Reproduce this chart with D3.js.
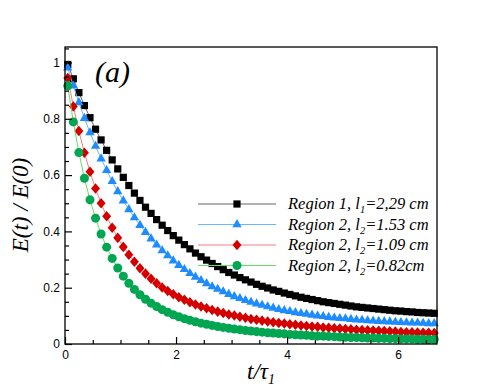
<!DOCTYPE html>
<html>
<head>
<meta charset="utf-8">
<script src="https://cdn.jsdelivr.net/npm/d3@7"></script>
<style>
  html, body { margin: 0; padding: 0; background: #fff; }
  svg { display: block; }
</style>
</head>
<body>
<svg id="chart" width="498" height="388"></svg>
<script>
// ---- data ----
const tValues = [0.05,0.15,0.25,0.35,0.45,0.55,0.65,0.75,0.85,0.95,1.05,1.15,1.25,1.35,1.45,1.55,1.65,1.75,1.85,1.95,2.05,2.15,2.25,2.35,2.45,2.55,2.65,2.75,2.85,2.95,3.05,3.15,3.25,3.35,3.45,3.55,3.65,3.75,3.85,3.95,4.05,4.15,4.25,4.35,4.45,4.55,4.65,4.75,4.85,4.95,5.05,5.15,5.25,5.35,5.45,5.55,5.65,5.75,5.85,5.95,6.05,6.15,6.25,6.35,6.45,6.55,6.65];

const region1_l229 = [0.993,0.942,0.893,0.847,0.804,0.763,0.725,0.688,0.654,0.622,0.592,0.563,0.536,0.510,0.486,0.464,0.442,0.422,0.403,0.385,0.369,0.353,0.338,0.323,0.310,0.298,0.286,0.275,0.264,0.254,0.245,0.236,0.228,0.220,0.212,0.205,0.199,0.192,0.187,0.181,0.176,0.171,0.166,0.162,0.158,0.154,0.150,0.147,0.144,0.141,0.138,0.135,0.132,0.130,0.128,0.126,0.124,0.122,0.120,0.118,0.117,0.115,0.114,0.112,0.111,0.110,0.109];

const region2_l153 = [0.981,0.917,0.858,0.802,0.751,0.703,0.658,0.617,0.578,0.542,0.509,0.478,0.449,0.422,0.397,0.374,0.352,0.332,0.314,0.296,0.280,0.265,0.251,0.238,0.226,0.215,0.204,0.195,0.186,0.177,0.169,0.162,0.155,0.149,0.143,0.138,0.133,0.128,0.123,0.119,0.116,0.112,0.109,0.106,0.103,0.100,0.098,0.095,0.093,0.091,0.090,0.088,0.086,0.085,0.083,0.082,0.081,0.080,0.079,0.078,0.077,0.076,0.075,0.075,0.074,0.073,0.073];

const region2_l109 = [0.945,0.844,0.757,0.679,0.612,0.552,0.500,0.454,0.413,0.377,0.345,0.317,0.292,0.269,0.250,0.232,0.216,0.201,0.188,0.177,0.166,0.157,0.148,0.140,0.133,0.127,0.121,0.115,0.110,0.105,0.101,0.097,0.093,0.089,0.086,0.083,0.080,0.077,0.075,0.073,0.070,0.068,0.066,0.064,0.062,0.061,0.059,0.058,0.056,0.055,0.053,0.052,0.051,0.050,0.049,0.048,0.047,0.046,0.045,0.044,0.043,0.042,0.042,0.041,0.040,0.040,0.039];

const region2_l082 = [0.917,0.789,0.680,0.589,0.512,0.447,0.391,0.344,0.304,0.270,0.241,0.216,0.194,0.175,0.159,0.145,0.133,0.122,0.113,0.104,0.097,0.090,0.084,0.079,0.074,0.070,0.066,0.062,0.059,0.056,0.053,0.051,0.048,0.046,0.044,0.042,0.040,0.039,0.037,0.036,0.034,0.033,0.032,0.031,0.029,0.028,0.028,0.027,0.026,0.025,0.024,0.023,0.023,0.022,0.021,0.021,0.020,0.020,0.019,0.019,0.018,0.018,0.018,0.017,0.017,0.016,0.016];

const seriesNames = ["Region 1, l", "Region 2, l", "Region 2, l", "Region 2, l"];
const seriesSubs = ["1", "2", "2", "2"];
const seriesRest = ["=2,29 cm", "=1.53 cm", "=1.09 cm", "=0.82cm"];
const xTickValues = [0, 2, 4, 6];
const xTickLabels = ["0", "2", "4", "6"];
const yTickValues = [0, 0.2, 0.4, 0.6, 0.8, 1];
const yTickLabels = ["0", "0.2", "0.4", "0.6", "0.8", "1"];

// ---- layout ----
const svg = d3.select("#chart");
const mLeft = 65, mRight = 437, mTop = 47, mBottom = 344;
const x = d3.scaleLinear().domain([0, 6.7]).range([mLeft, mRight]);
const y = d3.scaleLinear().domain([0, (mBottom - mTop) / 281.5]).range([mBottom, mTop]);

const serif = "'Liberation Serif', 'Times New Roman', serif";
const sans = "'Liberation Sans', Arial, Helvetica, sans-serif";

const diamondShape = {
  draw(ctx, size) {
    const h = Math.sqrt(size) * 0.62, w = h * 0.85;
    ctx.moveTo(0, -h); ctx.lineTo(w, 0); ctx.lineTo(0, h); ctx.lineTo(-w, 0); ctx.closePath();
  }
};

const styles = [
  { fill: "#000000", line: "#666666", shape: d3.symbolSquare, size: 52 },
  { fill: "#1e8cff", line: "#66b8ff", shape: d3.symbolTriangle, size: 38 },
  { fill: "#d40000", line: "#f08080", shape: diamondShape, size: 72 },
  { fill: "#00a651", line: "#66dd66", shape: d3.symbolCircle, size: 64 }
];
const allSeries = [region1_l229, region2_l153, region2_l109, region2_l082];

// ---- plot ----
const plot = svg.append("g");
allSeries.forEach((vals, k) => {
  const pts = tValues.map((t, i) => [t, vals[i]]);
  plot.append("path")
    .attr("d", d3.line().x(d => x(d[0])).y(d => y(d[1]))(pts))
    .attr("fill", "none").attr("stroke", styles[k].line).attr("stroke-width", 1);
  plot.selectAll(null).data(pts).enter().append("path")
    .attr("transform", d => `translate(${x(d[0])},${y(d[1])})`)
    .attr("d", d3.symbol().type(styles[k].shape).size(styles[k].size))
    .attr("fill", styles[k].fill);
});

// ---- axes (inward ticks) ----
const xMinor = d3.range(0, 6.71, 0.5).filter(v => Math.abs(v % 2) > 1e-6);
const yMinor = d3.range(0, 1.051, 0.05).filter(v => Math.round(v * 100) % 20 !== 0);

const xAxis = svg.append("g").attr("transform", `translate(0,${mBottom})`)
  .call(d3.axisBottom(x).tickValues(xTickValues).tickFormat((d, i) => xTickLabels[i]).tickSize(-7).tickPadding(7));
const xAxisMinor = svg.append("g").attr("transform", `translate(0,${mBottom})`)
  .call(d3.axisBottom(x).tickValues(xMinor).tickFormat("").tickSize(-4));
const yAxis = svg.append("g").attr("transform", `translate(${mLeft},0)`)
  .call(d3.axisLeft(y).tickValues(yTickValues).tickFormat((d, i) => yTickLabels[i]).tickSize(-7).tickPadding(5));
const yAxisMinor = svg.append("g").attr("transform", `translate(${mLeft},0)`)
  .call(d3.axisLeft(y).tickValues(yMinor).tickFormat("").tickSize(-4));

[xAxis, xAxisMinor, yAxis, yAxisMinor].forEach(g => {
  g.select(".domain").remove();
  g.selectAll(".tick line").attr("stroke", "#000").attr("stroke-width", 1.2);
  g.selectAll(".tick text").attr("font-family", sans).attr("font-size", 12).attr("fill", "#000");
});
xAxis.selectAll(".tick text").attr("y", 6);

// frame
svg.append("rect").attr("x", mLeft).attr("y", mTop)
  .attr("width", mRight - mLeft).attr("height", mBottom - mTop)
  .attr("fill", "none").attr("stroke", "#000").attr("stroke-width", 1.3);

// ---- labels ----
svg.append("text").attr("x", 95).attr("y", 82)
  .attr("font-family", serif).attr("font-style", "italic").attr("font-size", 30)
  .text("(a)");

const xt = svg.append("text").attr("x", 247).attr("y", 379)
  .attr("font-family", serif).attr("font-style", "italic").attr("font-size", 23);
xt.append("tspan").text("t/τ");
xt.append("tspan").attr("font-size", 14).attr("dy", 5).text("1");

svg.append("text")
  .attr("transform", "translate(28,205) rotate(-90)")
  .attr("text-anchor", "middle")
  .attr("font-family", serif).attr("font-style", "italic").attr("font-size", 23)
  .text("E(t) / E(0)");

// ---- legend ----
const legRows = [204, 224.5, 245, 265.5];
const leg = svg.append("g");
legRows.forEach((ry, k) => {
  leg.append("line").attr("x1", 198).attr("x2", 276).attr("y1", ry).attr("y2", ry)
    .attr("stroke", styles[k].line).attr("stroke-width", 1.2);
  leg.append("path").attr("transform", `translate(237,${ry})`)
    .attr("d", d3.symbol().type(styles[k].shape).size(styles[k].size)).attr("fill", styles[k].fill);
  const t = leg.append("text").attr("x", 288).attr("y", ry + 5)
    .attr("font-family", serif).attr("font-style", "italic").attr("font-size", 16.5);
  t.append("tspan").text(seriesNames[k]);
  t.append("tspan").attr("font-size", 10.5).attr("dy", 4).text(seriesSubs[k]);
  t.append("tspan").attr("dy", -4).text(seriesRest[k]);
});
</script>
</body>
</html>
